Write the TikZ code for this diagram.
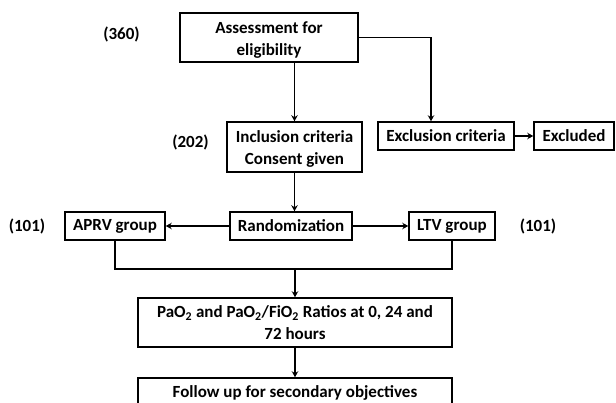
\documentclass[tikz,border=0pt]{standalone}
\usepackage{fontspec}
\setmainfont{Carlito}
\usetikzlibrary{arrows.meta}
\newcommand{\lowered}[1]{\raisebox{-2.5pt}[\height][\depth]{\begin{tabular}{@{}c@{}}#1\end{tabular}}}
\begin{document}
\begin{tikzpicture}[x=1pt,y=-1pt,
  box/.style={draw,line width=1.5pt,inner sep=0pt,align=center,anchor=center,
    font=\bfseries\fontsize{17}{22}\selectfont},
  lbl/.style={font=\bfseries\fontsize{17}{18}\selectfont,inner sep=0pt},
  conn/.style={line width=1.5pt},
  arr/.style={conn,-{Stealth[length=6pt,width=6.5pt]}}]
\useasboundingbox (0,0) rectangle (616,403);
\node[box,minimum width=178pt,minimum height=49pt] (assess) at (269,37.5) {\lowered{Assessment for\\eligibility}};
\node[box,minimum width=135pt,minimum height=50pt] (incl) at (294.5,147) {\lowered{Inclusion criteria\\Consent given}};
\node[box,minimum width=136pt,minimum height=28pt] (excl) at (446,136) {Exclusion criteria};
\node[box,minimum width=80pt,minimum height=28pt] (exd) at (574,136) {Excluded};
\node[box,minimum width=122pt,minimum height=28pt] (rand) at (291,226) {Randomization};
\node[box,minimum width=100pt,minimum height=28pt] (aprv) at (115,226) {APRV group};
\node[box,minimum width=86pt,minimum height=28pt] (ltv) at (452,226) {LTV group};
\node[box,minimum width=314pt,minimum height=49pt] (pao) at (295,322.5) {PaO\textsubscript{2} and PaO\textsubscript{2}/FiO\textsubscript{2} Ratios at 0, 24 and\\72 hours};
\node[box,minimum width=314pt,minimum height=30pt] (fol) at (295,393) {Follow up for secondary objectives};
\node[lbl] (n360) at (121.5,34) {(360)};
\node[lbl] (n202) at (190.5,142) {(202)};
\node[lbl] (n101a) at (27,226) {(101)};
\node[lbl] (n101b) at (538,226) {(101)};
\coordinate (ex) at (431,37.5);
\coordinate (join) at (295,269);
\draw[arr] (incl.north |- assess.south) -- (incl.north);
\draw[arr] (assess.east) -- (ex) -- (ex |- excl.north);
\draw[arr] (excl.east) -- (exd.west);
\draw[arr] (incl.south) -- (incl.south |- rand.north);
\draw[arr] (rand.west) -- (aprv.east);
\draw[arr] (rand.east) -- (ltv.west);
\draw[conn] (aprv.south) -- (aprv.south |- join) -- (ltv.south |- join) -- (ltv.south);
\draw[arr] (join) -- (pao.north);
\draw[arr] (pao.south) -- (fol.north);
\end{tikzpicture}
\end{document}
